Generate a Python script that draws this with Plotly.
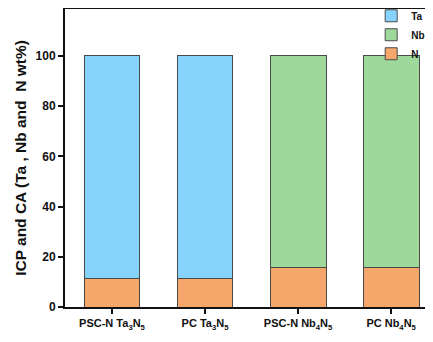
import plotly.graph_objects as go

categories = ["PSC-N Ta<sub>3</sub>N<sub>5</sub>", "PC Ta<sub>3</sub>N<sub>5</sub>",
              "PSC-N Nb<sub>4</sub>N<sub>5</sub>", "PC Nb<sub>4</sub>N<sub>5</sub>"]
n_vals = [11.2, 11.3, 15.8, 15.7]
ta_vals = [88.8, 88.7, None, None]
nb_vals = [None, None, 84.2, 84.3]
y_ticks = [0, 20, 40, 60, 80, 100]

xs = list(range(len(categories)))
line = dict(color="#4a4a4a", width=1)

fig = go.Figure()
fig.add_trace(go.Bar(x=xs, y=n_vals, name="N", marker=dict(color="#F5A66B", line=line), legendrank=3))
fig.add_trace(go.Bar(x=xs, y=ta_vals, name="Ta", marker=dict(color="#86D4FE", line=line), legendrank=1))
fig.add_trace(go.Bar(x=xs, y=nb_vals, name="Nb", marker=dict(color="#9ED89B", line=line), legendrank=2))

fig.update_layout(
    width=425, height=334,
    margin=dict(l=57, r=0, t=1, b=35, autoexpand=False),
    barmode="stack", bargap=0.4,
    plot_bgcolor="white", paper_bgcolor="white",
    showlegend=True,
    legend=dict(x=0.832, y=1.026, xanchor="left", yanchor="top",
                traceorder="normal", bgcolor="rgba(0,0,0,0)",
                font=dict(family="Liberation Sans, Arial", size=10, color="#111", weight="bold"),
                itemwidth=30, tracegroupgap=0, borderwidth=0),
    xaxis=dict(range=[-0.505, 3.45], tickvals=xs, ticktext=categories,
               showline=True, linecolor="#111", linewidth=2, mirror=True,
               ticks="outside", ticklen=5, tickwidth=2, tickcolor="#111",
               tickfont=dict(family="Liberation Sans, Arial", size=11, color="#111", weight="bold"),
               showgrid=False, zeroline=False, automargin=False),
    yaxis=dict(range=[0, 118.7], tickvals=y_ticks,
               showline=True, linecolor="#111", linewidth=2,
               ticks="outside", ticklen=5, tickwidth=2, tickcolor="#111",
               tickfont=dict(family="Liberation Sans, Arial", size=12, color="#111", weight="bold"),
               title=dict(text="ICP and CA (Ta , Nb and  N wt%)", standoff=5,
                          font=dict(family="Liberation Sans, Arial", size=15.5, color="#111", weight="bold")),
               showgrid=False, zeroline=False, automargin=False),
)
fig.write_html("out.html")
